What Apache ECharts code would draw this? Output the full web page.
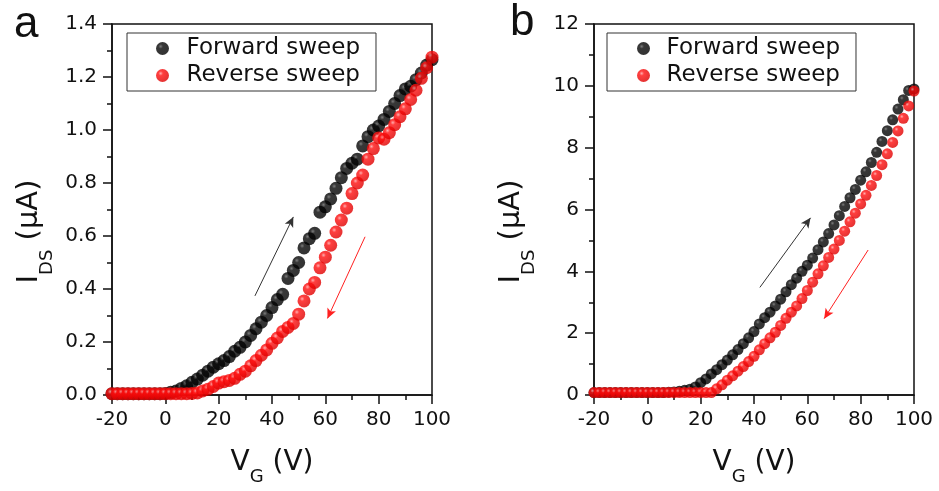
<!DOCTYPE html>
<html>
<head>
<meta charset="utf-8">
<script src="https://cdn.jsdelivr.net/npm/echarts@6/dist/echarts.min.js"></script>
<style>
  html, body { margin: 0; padding: 0; background: #fff; }
  #chart-container { width: 939px; height: 491px; }
</style>
</head>
<body>
<div id="chart-container"></div>
<script>
// gate voltage (V), same sweep points for both panels
const gateV = [-20,-18,-16,-14,-12,-10,-8,-6,-4,-2,0,2,4,6,8,10,12,14,16,18,20,22,24,26,28,30,32,34,36,38,40,
  42,44,46,48,50,52,54,56,58,60,62,64,66,68,70,72,74,76,78,80,82,84,86,88,90,92,94,96,98,100];

// panel a, I_DS in uA
const fwdA = [0.005,0.005,0.005,0.005,0.005,0.005,0.005,0.005,0.005,0.005,0.006,0.01,0.015,0.025,0.035,0.048,
  0.06,0.075,0.09,0.105,0.118,0.13,0.145,0.165,0.18,0.2,0.225,0.25,0.275,0.3,0.33,0.36,0.38,0.44,0.47,0.5,
  0.555,0.59,0.61,0.69,0.71,0.74,0.78,0.82,0.855,0.875,0.89,0.94,0.975,1.0,1.015,1.04,1.07,1.1,1.13,1.155,
  1.165,1.19,1.215,1.245,1.265];
const revA = [0.005,0.005,0.005,0.005,0.005,0.005,0.005,0.005,0.005,0.005,0.005,0.005,0.005,0.005,0.005,0.006,
  0.008,0.015,0.022,0.032,0.045,0.05,0.055,0.063,0.078,0.09,0.11,0.13,0.15,0.17,0.195,0.215,0.24,0.255,0.27,
  0.305,0.355,0.4,0.425,0.48,0.52,0.565,0.615,0.66,0.705,0.76,0.8,0.83,0.89,0.93,0.97,0.965,0.99,1.02,1.05,
  1.08,1.115,1.15,1.195,1.235,1.275];

// panel b, I_DS in uA
const fwdB = [0.08,0.08,0.08,0.08,0.08,0.08,0.08,0.08,0.08,0.08,0.08,0.08,0.08,0.08,0.09,0.1,0.12,0.15,0.19,
  0.26,0.4,0.52,0.68,0.82,0.98,1.13,1.3,1.47,1.66,1.85,2.05,2.3,2.5,2.68,2.88,3.1,3.34,3.57,3.78,4.0,4.2,4.43,
  4.7,4.95,5.22,5.5,5.8,6.1,6.38,6.65,6.95,7.22,7.52,7.85,8.2,8.55,8.9,9.25,9.55,9.85,9.9];
const revB = [0.08,0.08,0.08,0.08,0.08,0.08,0.08,0.08,0.08,0.08,0.08,0.08,0.08,0.08,0.08,0.08,0.08,0.08,0.08,
  0.08,0.08,0.08,0.08,0.2,0.33,0.48,0.62,0.77,0.92,1.08,1.25,1.46,1.66,1.85,2.03,2.25,2.48,2.68,2.88,3.12,
  3.38,3.65,3.92,4.18,4.45,4.72,5.0,5.3,5.6,5.88,6.18,6.46,6.78,7.1,7.45,7.8,8.17,8.54,8.95,9.35,9.83];

// direction arrows [start, end] in data units
const arrowFwdA = [[33.6, 0.374], [48, 0.672]];
const arrowRevA = [[74.9, 0.597], [60.8, 0.289]];
const arrowFwdB = [[42.2, 3.48], [61.2, 5.73]];
const arrowRevB = [[82.8, 4.69], [66.3, 2.47]];

const FONT = 'DejaVu Sans, sans-serif';
const INK = '#111';

const pairs = (ys) => gateV.map((v, i) => [v, ys[i]]);

// shaded "ball" markers
const ball = (c0, c1, c2) => ({
  type: 'radial', x: 0.36, y: 0.34, r: 0.64,
  colorStops: [{ offset: 0, color: c0 }, { offset: 0.28, color: c1 }, { offset: 1, color: c2 }]
});
const blackBall = ball('#5c5c5c', '#050505', '#000000');
const redBall = ball('#ff9a9a', '#ff0f0f', '#e00000');

const arrow = (pts, color) => ({
  silent: true,
  symbol: ['none', 'arrow'],
  symbolSize: [7, 10],
  label: { show: false },
  lineStyle: { color: color, width: 1, type: 'solid' },
  data: [[{ coord: pts[0] }, { coord: pts[1] }]]
});

const tickStyle = { color: INK, width: 1.5 };

const xAx = (gi) => ({
  gridIndex: gi, type: 'value', min: -20, max: 100, interval: 20,
  name: '{i|V}{s|G}{i| (V)}', nameLocation: 'middle', nameGap: 45,
  nameTextStyle: {
    rich: {
      i: { fontFamily: FONT, fontSize: 28, color: INK },
      s: { fontFamily: FONT, fontSize: 18, color: INK, padding: [28, 0, 0, 0] }
    }
  },
  axisLine: { onZero: false, lineStyle: { color: INK, width: 1.5 } },
  axisTick: { inside: false, length: 9, lineStyle: tickStyle },
  minorTick: { show: true, splitNumber: 2, length: 5, lineStyle: tickStyle },
  splitLine: { show: false },
  axisLabel: { fontFamily: FONT, fontSize: 20, color: INK, margin: 15 }
});

const yAx = (gi, max, interval, fmt) => ({
  gridIndex: gi, type: 'value', min: 0, max: max, interval: interval,
  name: '{i|I}{s|DS}{i| (μA)}', nameLocation: 'middle', nameGap: 56,
  nameTextStyle: {
    padding: [0, 44, 0, 0],
    rich: {
      i: { fontFamily: FONT, fontSize: 29, color: INK },
      s: { fontFamily: FONT, fontSize: 18, color: INK, padding: [36, 0, 0, 0] }
    }
  },
  axisLine: { onZero: false, lineStyle: { color: INK, width: 1.5 } },
  axisTick: { inside: false, length: 9, lineStyle: tickStyle },
  minorTick: { show: true, splitNumber: 2, length: 5, lineStyle: tickStyle },
  splitLine: { show: false },
  axisLabel: { fontFamily: FONT, fontSize: 20, color: INK, margin: 15, formatter: fmt }
});

const legendAt = (left, padLeft, itemW) => ({
  left: left, top: 33, orient: 'vertical',
  data: ['Forward sweep', 'Reverse sweep'],
  itemWidth: itemW, itemHeight: 13, itemGap: 4,
  padding: [4, 16, 4, padLeft],
  borderColor: '#333', borderWidth: 1,
  icon: 'circle',
  textStyle: { fontFamily: FONT, fontSize: 23, color: INK }
});

const myChart = echarts.init(document.getElementById('chart-container'));
const option = {
  animation: false,
  backgroundColor: '#fff',
  grid: [
    { left: 112, top: 24, width: 320, height: 372, show: true, borderColor: INK, borderWidth: 1.5 },
    { left: 594, top: 24, width: 320, height: 374, show: true, borderColor: INK, borderWidth: 1.5 }
  ],
  xAxis: [xAx(0), xAx(1)],
  yAxis: [
    yAx(0, 1.4, 0.2, (v) => v.toFixed(1)),
    yAx(1, 12, 2, (v) => String(v))
  ],
  legend: [legendAt(127, 29, 38), legendAt(607, 30, 36)],
  graphic: [
    { type: 'text', left: 14, top: 3, style: { text: 'a', fontFamily: 'Liberation Sans, Arial', fontSize: 44, fill: INK } },
    { type: 'text', left: 510, top: 1, style: { text: 'b', fontFamily: 'Liberation Sans, Arial', fontSize: 44, fill: INK } }
  ],
  series: [
    { name: 'Forward sweep', type: 'scatter', xAxisIndex: 0, yAxisIndex: 0, data: pairs(fwdA),
      symbolSize: 13, itemStyle: { color: blackBall }, markLine: arrow(arrowFwdA, '#333') },
    { name: 'Reverse sweep', type: 'scatter', xAxisIndex: 0, yAxisIndex: 0, data: pairs(revA),
      symbolSize: 13, itemStyle: { color: redBall }, markLine: arrow(arrowRevA, '#ff2020') },
    { name: 'Forward sweep', type: 'scatter', xAxisIndex: 1, yAxisIndex: 1, data: pairs(fwdB),
      symbolSize: 11, itemStyle: { color: blackBall }, markLine: arrow(arrowFwdB, '#333') },
    { name: 'Reverse sweep', type: 'scatter', xAxisIndex: 1, yAxisIndex: 1, data: pairs(revB),
      symbolSize: 11, itemStyle: { color: redBall }, markLine: arrow(arrowRevB, '#ff2020') }
  ]
};
myChart.setOption(option);
</script>
</body>
</html>
